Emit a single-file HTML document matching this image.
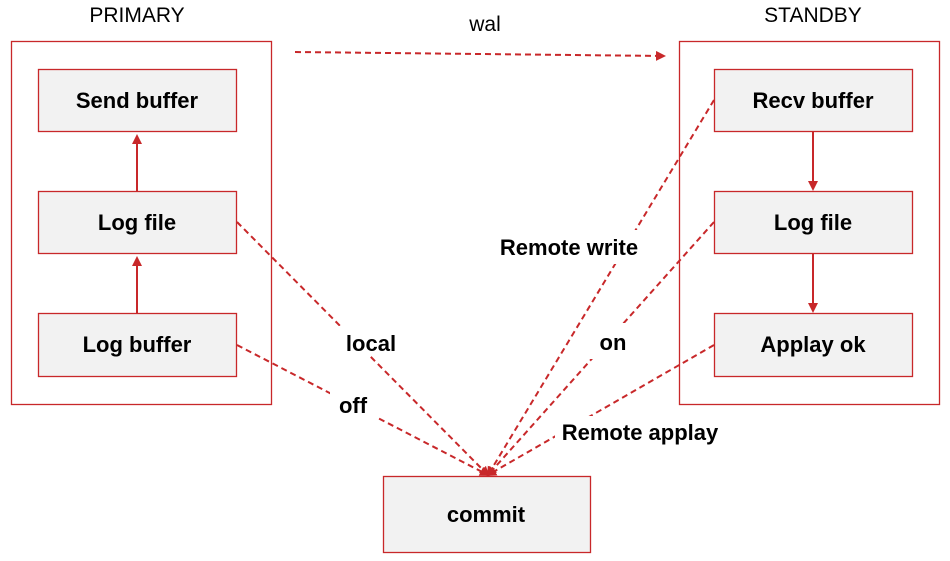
<!DOCTYPE html>
<html><head><style>body{margin:0;background:#fff}svg{display:block}</style></head><body>
<svg width="950" height="561" viewBox="0 0 950 561" xmlns="http://www.w3.org/2000/svg" font-family="'Liberation Sans',sans-serif">
<defs><marker id="a" markerWidth="10" markerHeight="10" refX="8" refY="5" orient="auto" markerUnits="userSpaceOnUse"><path d="M0,0 L10,5 L0,10 z" fill="#c8282a"/></marker></defs>
<g fill="none" stroke="#c8282a" stroke-width="1.3">
<rect x="11.5" y="41.5" width="260" height="363"/>
<rect x="679.5" y="41.5" width="260" height="363"/>
</g>
<g fill="#f2f2f2" stroke="#c8282a" stroke-width="1.3">
<rect x="38.5" y="69.5" width="198" height="62"/>
<rect x="38.5" y="191.5" width="198" height="62"/>
<rect x="38.5" y="313.5" width="198" height="63"/>
<rect x="714.5" y="69.5" width="198" height="62"/>
<rect x="714.5" y="191.5" width="198" height="62"/>
<rect x="714.5" y="313.5" width="198" height="63"/>
<rect x="383.5" y="476.5" width="207" height="76"/>
</g>
<g stroke="#c8282a" stroke-width="2" fill="none">
<line x1="137" y1="191" x2="137" y2="136" marker-end="url(#a)"/>
<line x1="137" y1="313" x2="137" y2="258" marker-end="url(#a)"/>
<line x1="813" y1="131" x2="813" y2="189" marker-end="url(#a)"/>
<line x1="813" y1="253" x2="813" y2="311" marker-end="url(#a)"/>
</g>
<g stroke="#c8282a" stroke-width="2" fill="none" stroke-dasharray="6,4">
<line x1="295" y1="52" x2="664" y2="56" marker-end="url(#a)"/>
<line x1="237" y1="222" x2="488" y2="475" marker-end="url(#a)"/>
<line x1="237" y1="345" x2="488" y2="475" marker-end="url(#a)"/>
<line x1="714" y1="100" x2="488" y2="475" marker-end="url(#a)"/>
<line x1="714" y1="222" x2="488" y2="475" marker-end="url(#a)"/>
<line x1="714" y1="345" x2="488" y2="475" marker-end="url(#a)"/>
</g>
<g fill="#fff">
<rect x="334" y="326" width="70" height="30"/>
<rect x="330" y="390" width="46" height="30"/>
<rect x="495" y="230" width="150" height="34"/>
<rect x="590" y="323" width="48" height="36"/>
<rect x="555" y="416" width="170" height="34"/>
</g>
<g font-size="21" fill="#000" text-anchor="middle">
<text x="137" y="22">PRIMARY</text>
<text x="813" y="22">STANDBY</text>
<text x="485" y="31">wal</text>
</g>
<g font-size="22" font-weight="bold" fill="#000" text-anchor="middle">
<text x="137" y="108">Send buffer</text>
<text x="137" y="230">Log file</text>
<text x="137" y="352">Log buffer</text>
<text x="813" y="108">Recv buffer</text>
<text x="813" y="230">Log file</text>
<text x="813" y="352">Applay ok</text>
<text x="486" y="522">commit</text>
<text x="371" y="351">local</text>
<text x="353" y="413">off</text>
<text x="569" y="255">Remote write</text>
<text x="613" y="350">on</text>
<text x="640" y="440">Remote applay</text>
</g>
</svg>
</body></html>
